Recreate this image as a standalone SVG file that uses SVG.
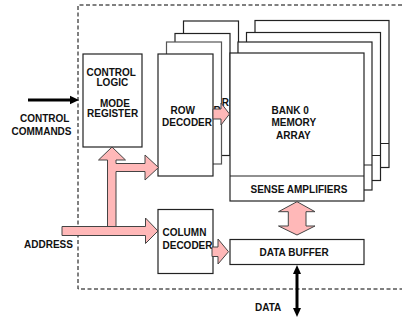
<svg xmlns="http://www.w3.org/2000/svg" width="402" height="321" viewBox="0 0 402 321">
<style>
.box{fill:#fff;stroke:#222;stroke-width:1.2}
.t{font-family:"Liberation Sans",Arial,sans-serif;font-weight:bold;font-size:10px;fill:#111}
.pink{fill:#ffb8b8;stroke:#444;stroke-width:1}
.blk{stroke:#000;stroke-width:3;fill:none}
</style>
<rect x="0" y="0" width="402" height="321" fill="#fff"/>
<path d="M402,5 H78 V289 H402" fill="none" stroke="#000" stroke-width="1" stroke-dasharray="4,2.5"/>

<g id="row-decoder-stack">
  <g id="row-decoder-4"><rect class="box" x="183.5" y="21" width="55" height="122"/></g>
  <g id="row-decoder-3"><rect class="box" x="175" y="33.5" width="55" height="122"/><text class="t" x="221.8" y="105.5">R</text></g>
  <g id="row-decoder-2"><rect class="box" x="166.5" y="42" width="55" height="122" style="stroke:#555"/><text class="t" x="213.5" y="114">R</text></g>
  <g id="row-decoder"><rect class="box" x="158" y="54" width="55" height="122"/><text class="t" x="170.5" y="114">ROW</text><text class="t" x="162" y="126">DECODER</text></g>
</g>

<g id="memory-stack">
  <g id="bank-3"><rect class="box" x="255" y="20.5" width="134" height="147"/><line class="box" x1="255" y1="143.5" x2="389" y2="143.5"/></g>
  <g id="bank-2"><rect class="box" x="246.5" y="32.5" width="134" height="148"/><line class="box" x1="246.5" y1="155.5" x2="380.5" y2="155.5"/></g>
  <g id="bank-1"><rect class="box" x="238" y="42" width="134" height="148"/><line class="box" x1="238" y1="165" x2="372" y2="165"/></g>
  <g id="bank-0">
    <rect class="box" x="230" y="53" width="134" height="148"/>
    <line class="box" x1="230" y1="176" x2="364" y2="176"/>
    <text class="t" x="271.5" y="114">BANK 0</text>
    <text class="t" x="271.5" y="126">MEMORY</text>
    <text class="t" x="276" y="138.5">ARRAY</text>
    <text class="t" x="250.5" y="192.5">SENSE AMPLIFIERS</text>
  </g>
</g>

<g id="control-logic">
  <rect class="box" x="83" y="54" width="59" height="93"/>
  <text class="t" x="86.5" y="76">CONTROL</text>
  <text class="t" x="96.5" y="85.5">LOGIC</text>
  <text class="t" x="100" y="106.8">MODE</text>
  <text class="t" x="87" y="116.5">REGISTER</text>
</g>

<g id="column-decoder">
  <rect class="box" x="158" y="209.5" width="55" height="64"/>
  <text class="t" x="162.5" y="236">COLUMN</text>
  <text class="t" x="162.5" y="249">DECODER</text>
</g>

<g id="data-buffer">
  <rect class="box" x="230" y="239.5" width="134" height="25"/>
  <text class="t" x="259.5" y="255.5">DATA BUFFER</text>
</g>

<g id="labels">
  <text class="t" x="20" y="122.3">CONTROL</text>
  <text class="t" x="11.5" y="135">COMMANDS</text>
  <text class="t" x="24" y="248.3">ADDRESS</text>
  <text class="t" x="255" y="311">DATA</text>
</g>

<g id="connectors">
  <polygon class="pink" points="107.5,227 107.5,160 98.5,160 112,147 125.5,160 116,160 116,163.5 145,163.5 145,155 158.5,167.5 145,180 145,171.5 116,171.5 116,227"/>
  <polygon class="pink" points="62,226.5 145.5,226.5 145.5,218 158,231 145.5,243.5 145.5,235.5 62,235.5"/>
  <polygon class="pink" points="213,109 221,109 221,103 229.5,114 221,125 221,119 213,119"/>
  <polygon class="pink" points="212,247 218,247 218,239 228.5,251.7 218,264 218,256.5 212,256.5"/>
  <polygon class="pink" points="297,201.7 315,211.7 306,211.7 306,226 315,226 297,235 278.5,226 288.3,226 288.3,211.7 278.5,211.7"/>
  <line class="blk" x1="28" y1="100" x2="71" y2="100"/>
  <polygon points="70,95.8 79,100 70,104.2" fill="#000"/>
  <line class="blk" x1="297" y1="272" x2="297" y2="310"/>
  <polygon points="297,265 301,274 293,274" fill="#000"/>
  <polygon points="297,317 301,308 293,308" fill="#000"/>
</g>
</svg>
